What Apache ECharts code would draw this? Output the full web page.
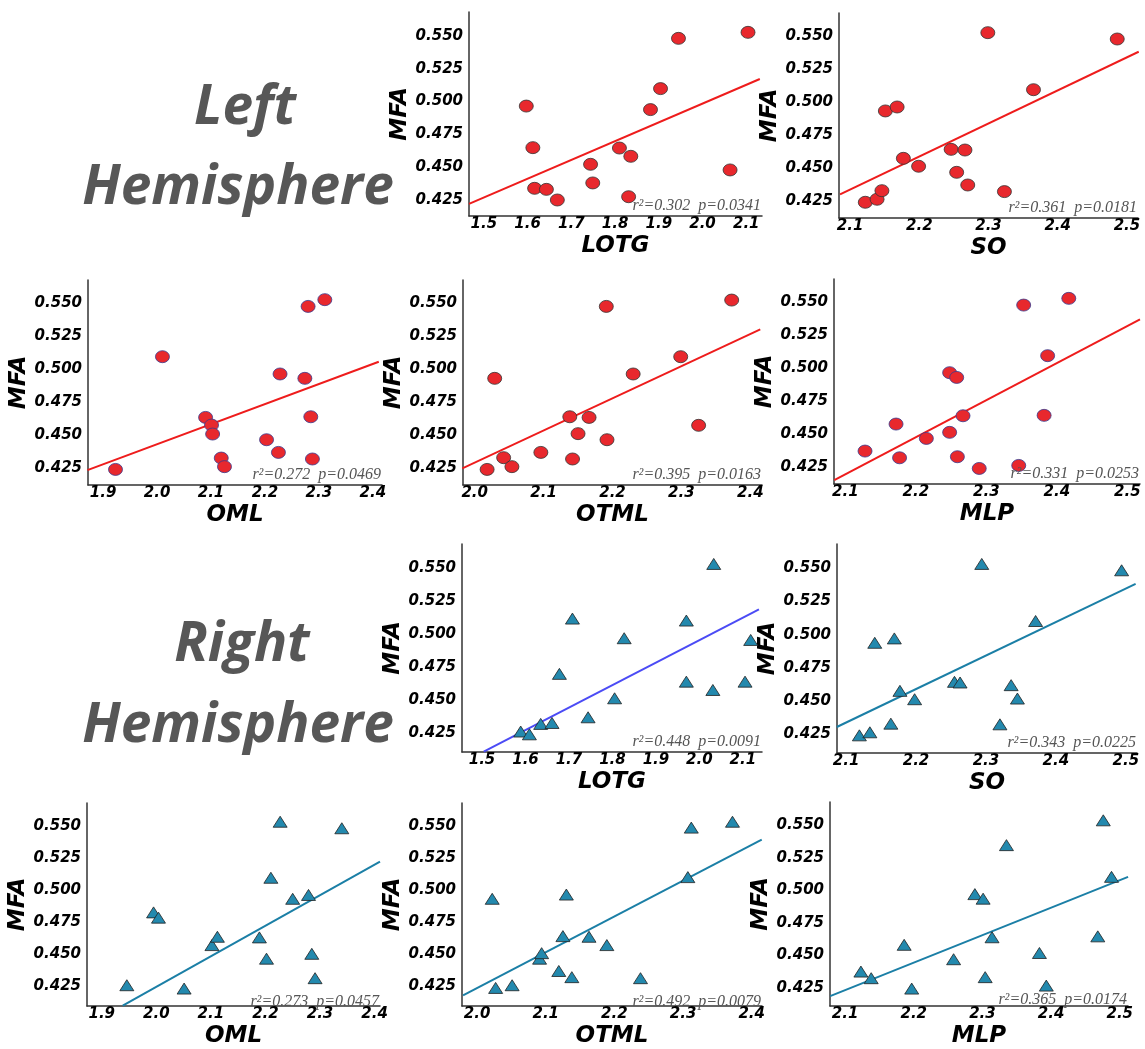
<!DOCTYPE html>
<html>
<head>
<meta charset="utf-8">
<title>MFA correlations</title>
<script src="https://cdn.jsdelivr.net/npm/echarts@6/dist/echarts.min.js"></script>
<style>
  html, body { margin: 0; padding: 0; background: #fff; }
  #chart { width: 1145px; height: 1049px; }
</style>
</head>
<body>
<div id="chart"></div>
<script>
// tick labels
var mfaTicks  = [0.425, 0.45, 0.475, 0.5, 0.525, 0.55];
var lotgTicks = [1.5, 1.6, 1.7, 1.8, 1.9, 2.0, 2.1];
var soTicks   = [2.1, 2.2, 2.3, 2.4, 2.5];
var omlTicks  = [1.9, 2.0, 2.1, 2.2, 2.3, 2.4];
var otmlTicks = [2.0, 2.1, 2.2, 2.3, 2.4];
var mlpTicks  = [2.1, 2.2, 2.3, 2.4, 2.5];

// ---- left hemisphere ----
var lotgL    = [1.597, 1.612, 1.616, 1.643, 1.668, 1.744, 1.749, 1.810, 1.836, 1.831, 1.881, 1.904, 1.945, 2.104, 2.063];
var mfaLotgL = [0.4966, 0.4649, 0.4339, 0.4331, 0.4250, 0.4522, 0.4380, 0.4646, 0.4583, 0.4275, 0.4939, 0.5099, 0.5482, 0.5528, 0.4479];
var fitLotgL = [[1.466, 0.4220], [2.131, 0.5172]];

var soL    = [2.122, 2.139, 2.146, 2.151, 2.168, 2.177, 2.199, 2.246, 2.266, 2.254, 2.270, 2.299, 2.323, 2.365, 2.486];
var mfaSoL = [0.4240, 0.4263, 0.4328, 0.4932, 0.4962, 0.4573, 0.4513, 0.4641, 0.4636, 0.4467, 0.4371, 0.5525, 0.4321, 0.5093, 0.5477];
var fitSoL = [[2.0855, 0.4300], [2.517, 0.5381]];

var omlL    = [1.923, 2.010, 2.090, 2.101, 2.103, 2.119, 2.125, 2.203, 2.225, 2.228, 2.274, 2.285, 2.288, 2.280, 2.311];
var mfaOmlL = [0.4242, 0.5096, 0.4636, 0.4578, 0.4510, 0.4328, 0.4263, 0.4467, 0.4371, 0.4965, 0.4932, 0.4641, 0.4321, 0.5477, 0.5528];
var fitOmlL = [[1.871, 0.4237], [2.411, 0.5058]];

var otmlL    = [2.018, 2.029, 2.042, 2.054, 2.096, 2.138, 2.142, 2.150, 2.166, 2.192, 2.191, 2.230, 2.299, 2.325, 2.373];
var mfaOtmlL = [0.4242, 0.4932, 0.4331, 0.4263, 0.4371, 0.4641, 0.4321, 0.4513, 0.4636, 0.4467, 0.5477, 0.4965, 0.5096, 0.4576, 0.5525];
var fitOtmlL = [[1.982, 0.4250], [2.4145, 0.5303]];

var mlpL    = [2.128, 2.172, 2.177, 2.215, 2.248, 2.248, 2.258, 2.259, 2.267, 2.290, 2.346, 2.353, 2.382, 2.387, 2.417];
var mfaMlpL = [0.4369, 0.4574, 0.4318, 0.4465, 0.4511, 0.4964, 0.4928, 0.4326, 0.4637, 0.4237, 0.4260, 0.5477, 0.4640, 0.5093, 0.5528];
var fitMlpL = [[2.0844, 0.4149], [2.518, 0.5368]];

// ---- right hemisphere ----
var lotgR    = [1.589, 1.609, 1.635, 1.661, 1.678, 1.708, 1.744, 1.805, 1.827, 1.970, 1.970, 2.031, 2.033, 2.105, 2.118];
var mfaLotgR = [0.4263, 0.4242, 0.4321, 0.4328, 0.4700, 0.5119, 0.4371, 0.4515, 0.4970, 0.5104, 0.4641, 0.4578, 0.5533, 0.4641, 0.4957];
var fitLotgR = [[1.504, 0.4111], [2.137, 0.5189]];

var soR    = [2.119, 2.134, 2.164, 2.141, 2.169, 2.177, 2.198, 2.255, 2.263, 2.294, 2.336, 2.345, 2.320, 2.371, 2.494];
var mfaSoR = [0.4242, 0.4265, 0.4330, 0.4939, 0.4972, 0.4577, 0.4514, 0.4645, 0.4640, 0.5533, 0.4620, 0.4519, 0.4325, 0.5103, 0.5485];
var fitSoR = [[2.0867, 0.4305], [2.514, 0.5382]];

var omlR    = [1.946, 1.995, 2.004, 2.051, 2.102, 2.112, 2.189, 2.202, 2.210, 2.227, 2.250, 2.279, 2.285, 2.291, 2.340];
var mfaOmlR = [0.4258, 0.4826, 0.4785, 0.4232, 0.4571, 0.4636, 0.4631, 0.4465, 0.5096, 0.5533, 0.4932, 0.4962, 0.4503, 0.4313, 0.5482];
var fitOmlR = [[1.9385, 0.4098], [2.410, 0.5222]];

var otmlR    = [2.022, 2.027, 2.051, 2.091, 2.094, 2.119, 2.125, 2.130, 2.138, 2.163, 2.189, 2.238, 2.307, 2.312, 2.372];
var mfaOtmlR = [0.4932, 0.4237, 0.4258, 0.4465, 0.4508, 0.4369, 0.4641, 0.4965, 0.4321, 0.4636, 0.4571, 0.4313, 0.5101, 0.5487, 0.5533];
var fitOtmlR = [[1.9795, 0.4179], [2.4146, 0.5394]];

var mlpR    = [2.123, 2.138, 2.186, 2.197, 2.258, 2.289, 2.301, 2.304, 2.314, 2.335, 2.383, 2.393, 2.468, 2.476, 2.488];
var mfaMlpR = [0.4376, 0.4325, 0.4582, 0.4245, 0.4471, 0.4972, 0.4937, 0.4333, 0.4640, 0.5349, 0.4519, 0.4268, 0.4647, 0.5540, 0.5105];
var fitMlpR = [[2.0782, 0.4187], [2.5121, 0.5105]];

var stats = ['r²=0.302  p=0.0341', 'r²=0.361  p=0.0181', 'r²=0.272  p=0.0469', 'r²=0.395  p=0.0163', 'r²=0.331  p=0.0253',
             'r²=0.448  p=0.0091', 'r²=0.343  p=0.0225', 'r²=0.273  p=0.0457', 'r²=0.492  p=0.0079', 'r²=0.365  p=0.0174'];

var RED = '#e8282d', TEAL = '#2389ae';
var panels = [
  {name: 'LOTG', x: lotgL, y: mfaLotgL, fit: fitLotgL, ticks: lotgTicks, box: [469, 12, 293, 204], xr: [1.466, 2.136], yr: [0.4128, 0.5683], sym: 'circle', fill: RED, edge: '#333', line: '#ee1c1c'},
  {name: 'SO',   x: soL,   y: mfaSoL,   fit: fitSoL,   ticks: soTicks,   box: [839, 13, 299, 205], xr: [2.084, 2.516], yr: [0.4121, 0.5674], sym: 'circle', fill: RED, edge: '#333', line: '#ee1c1c'},
  {name: 'OML',  x: omlL,  y: mfaOmlL,  fit: fitOmlL,  ticks: omlTicks,  box: [88, 280, 294, 205], xr: [1.872, 2.417], yr: [0.4124, 0.5677], sym: 'circle', fill: RED, edge: '#3a3a8c', line: '#ee1c1c'},
  {name: 'OTML', x: otmlL, y: mfaOtmlL, fit: fitOtmlL, ticks: otmlTicks, box: [463, 280, 299, 205], xr: [1.983, 2.417], yr: [0.4124, 0.5677], sym: 'circle', fill: RED, edge: '#333', line: '#ee1c1c'},
  {name: 'MLP',  x: mlpL,  y: mfaMlpL,  fit: fitMlpL,  ticks: mlpTicks,  box: [834, 279, 306, 205], xr: [2.084, 2.518], yr: [0.4119, 0.5675], sym: 'circle', fill: RED, edge: '#3a3a8c', line: '#ee1c1c'},
  {name: 'LOTG', x: lotgR, y: mfaLotgR, fit: fitLotgR, ticks: lotgTicks, box: [462, 544, 300, 208], xr: [1.454, 2.144], yr: [0.4108, 0.5684], sym: 'triangle', fill: TEAL, edge: '#222', line: '#4b4bf5'},
  {name: 'SO',   x: soR,   y: mfaSoR,   fit: fitSoR,   ticks: soTicks,   box: [837, 544, 300, 209], xr: [2.087, 2.516], yr: [0.4109, 0.5683], sym: 'triangle', fill: TEAL, edge: '#222', line: '#1b7fa6'},
  {name: 'OML',  x: omlR,  y: mfaOmlR,  fit: fitOmlR,  ticks: omlTicks,  box: [87, 803, 293, 209], xr: [1.873, 2.410], yr: [0.4096, 0.5679], sym: 'triangle', fill: TEAL, edge: '#222', line: '#1b7fa6'},
  {name: 'OTML', x: otmlR, y: mfaOtmlR, fit: fitOtmlR, ticks: otmlTicks, box: [462, 803, 300, 209], xr: [1.978, 2.415], yr: [0.4096, 0.5679], sym: 'triangle', fill: TEAL, edge: '#222', line: '#1b7fa6'},
  {name: 'MLP',  x: mlpR,  y: mfaMlpR,  fit: fitMlpR,  ticks: mlpTicks,  box: [830, 802, 298, 208], xr: [2.078, 2.512], yr: [0.4111, 0.5681], sym: 'triangle', fill: TEAL, edge: '#222', line: '#1b7fa6'}
];

var tickFont = {fontFamily: 'DejaVu Sans', fontWeight: 'bold', fontStyle: 'italic', fontSize: 15, color: '#000'};
var nameFont = {fontFamily: 'DejaVu Sans', fontWeight: 'bold', fontStyle: 'italic', fontSize: 23, color: '#000'};
var axisLine = {show: true, lineStyle: {color: '#333', width: 1.5}};

var grid = [], xAxis = [], yAxis = [], series = [], graphic = [];
panels.forEach(function (p, i) {
  var b = p.box;
  grid.push({left: b[0], top: b[1], width: b[2], height: b[3]});
  xAxis.push({
    type: 'value', gridIndex: i, min: p.xr[0], max: p.xr[1],
    name: p.name, nameLocation: 'middle', nameGap: 19, nameTextStyle: nameFont,
    axisLine: axisLine, axisTick: {show: false}, splitLine: {show: false},
    axisLabel: Object.assign({margin: 1, customValues: p.ticks, formatter: function (v) { return v.toFixed(1); }}, tickFont)
  });
  yAxis.push({
    type: 'value', gridIndex: i, min: p.yr[0], max: p.yr[1],
    name: 'MFA', nameLocation: 'middle', nameGap: 53, nameTextStyle: nameFont,
    axisLine: axisLine, axisTick: {show: false}, splitLine: {show: false},
    axisLabel: Object.assign({margin: 6, customValues: mfaTicks, formatter: function (v) { return v.toFixed(3); }}, tickFont)
  });
  series.push({
    type: 'line', xAxisIndex: i, yAxisIndex: i, data: p.fit, symbol: 'none',
    lineStyle: {color: p.line, width: 2}, silent: true, z: 2
  });
  series.push({
    type: 'scatter', xAxisIndex: i, yAxisIndex: i,
    data: p.x.map(function (v, k) { return [v, p.y[k]]; }),
    symbol: p.sym, symbolSize: p.sym === 'circle' ? [14, 12] : [14, 11],
    itemStyle: {color: p.fill, borderColor: p.edge, borderWidth: 0.8, opacity: 1}, z: 3
  });
  graphic.push({
    type: 'text', x: b[0] + b[2] - 1, y: b[1] + b[3] - 10, z: 10,
    style: {text: stats[i], fontFamily: 'Liberation Serif', fontStyle: 'italic', fontSize: 16,
            fill: '#555', align: 'right', verticalAlign: 'middle'}
  });
});

var bigFont = {fontFamily: 'Open Sans', fontWeight: 'bold', fontStyle: 'italic', fontSize: 55, fill: '#575757', align: 'center', verticalAlign: 'middle'};
[['Left', 245, 108], ['Hemisphere', 238, 188], ['Right', 242, 645], ['Hemisphere', 238, 726]].forEach(function (t) {
  graphic.push({type: 'text', x: t[1], y: t[2], z: 10, style: Object.assign({text: t[0]}, bigFont)});
});

var chart = echarts.init(document.getElementById('chart'));
chart.setOption({
  animation: false,
  backgroundColor: '#fff',
  grid: grid, xAxis: xAxis, yAxis: yAxis, series: series, graphic: graphic
});
</script>
</body>
</html>
